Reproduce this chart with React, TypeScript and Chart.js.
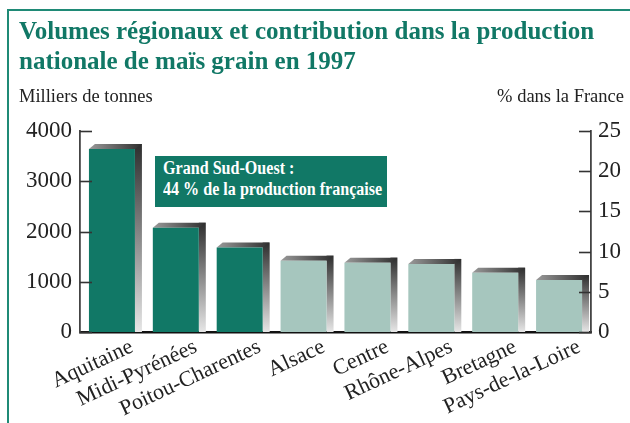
import React, { useEffect, useRef } from "react";
import { Chart, registerables } from "chart.js";

Chart.register(...registerables);

const categories = [
  "Aquitaine",
  "Midi-Pyrénées",
  "Poitou-Charentes",
  "Alsace",
  "Centre",
  "Rhône-Alpes",
  "Bretagne",
  "Pays-de-la-Loire",
];
const volumes = [3640, 2075, 1680, 1420, 1380, 1355, 1180, 1035];
const grandSudOuest = [true, true, true, false, false, false, false, false];
const leftTicks = [0, 1000, 2000, 3000, 4000];
const rightTicks = [0, 5, 10, 15, 20, 25];

const titleLines = [
  "Volumes régionaux et contribution dans la production",
  "nationale de maïs grain en 1997",
];
const leftUnit = "Milliers de tonnes";
const rightUnit = "% dans la France";
const noteLines = ["Grand Sud-Ouest :", "44 % de la production française"];

const DARK = "#117866";
const LIGHT = "#a6c6be";
const FRAME = "#1f8a76";
const SERIF = '"Liberation Serif", "Times New Roman", serif';

const shadowPlugin = {
  id: "barShadow",
  beforeDatasetsDraw(chart: any) {
    const ctx = chart.ctx;
    const meta = chart.getDatasetMeta(0);
    meta.data.forEach((bar: any) => {
      const { x, y, base, width } = bar.getProps(["x", "y", "base", "width"], true);
      const left = x - width / 2;
      const right = x + width / 2;
      const dx = 7;
      const dy = 5;
      ctx.save();
      const g = ctx.createLinearGradient(0, y - dy, 0, base);
      g.addColorStop(0, "#2e2e2e");
      g.addColorStop(1, "#e6e6e6");
      ctx.fillStyle = g;
      ctx.beginPath();
      ctx.moveTo(right, y - dy);
      ctx.lineTo(right + dx, y - dy);
      ctx.lineTo(right + dx, base);
      ctx.lineTo(right, base);
      ctx.closePath();
      ctx.fill();
      const h = ctx.createLinearGradient(left, 0, right + dx, 0);
      h.addColorStop(0, "#9a9a9a");
      h.addColorStop(1, "#2e2e2e");
      ctx.fillStyle = h;
      ctx.beginPath();
      ctx.moveTo(left, y);
      ctx.lineTo(left + dx - 1, y - dy);
      ctx.lineTo(right + dx, y - dy);
      ctx.lineTo(right, y);
      ctx.closePath();
      ctx.fill();
      ctx.restore();
    });
  },
};

const innerTicksPlugin = {
  id: "innerTicks",
  afterDraw(chart: any) {
    const ctx = chart.ctx;
    const len = 12;
    ctx.save();
    ctx.strokeStyle = "#333";
    ctx.lineWidth = 1.6;
    const yl = chart.scales.y;
    yl.ticks.forEach((_t: any, i: number) => {
      const py = Math.round(yl.getPixelForTick(i)) + 0.5;
      ctx.beginPath();
      ctx.moveTo(yl.right, py);
      ctx.lineTo(yl.right + len, py);
      ctx.stroke();
    });
    const yr = chart.scales.y1;
    yr.ticks.forEach((_t: any, i: number) => {
      const py = Math.round(yr.getPixelForTick(i)) + 0.5;
      ctx.beginPath();
      ctx.moveTo(yr.left - len, py);
      ctx.lineTo(yr.left, py);
      ctx.stroke();
    });
    ctx.restore();
  },
};

export default function App() {
  const ref = useRef<HTMLCanvasElement>(null);
  useEffect(() => {
    if (!ref.current) return;
    const chart = new Chart(ref.current, {
      type: "bar",
      data: {
        labels: categories,
        datasets: [
          {
            data: volumes,
            backgroundColor: grandSudOuest.map((g) => (g ? DARK : LIGHT)),
            borderWidth: 0,
            barPercentage: 0.72,
            categoryPercentage: 1,
            yAxisID: "y",
          },
        ],
      },
      options: {
        animation: false,
        responsive: true,
        maintainAspectRatio: false,
        layout: { padding: { top: 131, left: 0, right: 0, bottom: 0 } },
        plugins: {
          legend: { display: false },
          tooltip: { enabled: false },
          title: { display: false },
        },
        scales: {
          x: {
            type: "category",
            grid: { display: false, drawTicks: false },
            border: { display: true, color: "#111", width: 2.5 },
            ticks: {
              color: "#222",
              font: { family: SERIF, size: 22 },
              minRotation: 25,
              maxRotation: 25,
              labelOffset: 20,
              padding: 2,
              autoSkip: false,
            },
            afterFit(scale: any) {
              scale.height = 91;
            },
          },
          y: {
            position: "left",
            min: 0,
            max: 4000,
            afterBuildTicks(scale: any) {
              scale.ticks = leftTicks.map((v) => ({ value: v }));
            },
            grid: { display: false, drawTicks: false },
            border: { display: true, color: "#444", width: 1.8 },
            ticks: {
              color: "#222",
              font: { family: SERIF, size: 23 },
              padding: 8,
              callback: (v: any) => String(v),
            },
            afterFit(scale: any) {
              scale.width = 80;
            },
          },
          y1: {
            position: "right",
            min: 0,
            max: 25,
            afterBuildTicks(scale: any) {
              scale.ticks = rightTicks.map((v) => ({ value: v }));
            },
            grid: { display: false, drawTicks: false },
            border: { display: true, color: "#444", width: 1.8 },
            ticks: {
              color: "#222",
              font: { family: SERIF, size: 23 },
              padding: 7,
              callback: (v: any) => String(v),
            },
            afterFit(scale: any) {
              scale.width = 39;
            },
          },
        },
      } as any,
      plugins: [shadowPlugin, innerTicksPlugin],
    });
    return () => chart.destroy();
  }, []);

  return (
    <div
      style={{
        position: "fixed",
        left: 0,
        top: 0,
        width: 630,
        height: 423,
        background: "#ffffff",
        overflow: "hidden",
      }}
    >
      <canvas ref={ref} style={{ position: "absolute", left: 0, top: 0, width: 630, height: 423 }} />
      <div style={{ position: "absolute", left: 8, top: 9, width: 622, height: 2, background: FRAME }} />
      <div style={{ position: "absolute", left: 7, top: 9, width: 2, height: 414, background: FRAME }} />
      <div
        style={{
          position: "absolute",
          left: 19,
          top: 16,
          font: `bold 25px ${SERIF}`,
          lineHeight: "30px",
          color: DARK,
          whiteSpace: "nowrap",
        }}
      >
        {titleLines.map((l) => (
          <div key={l}>{l}</div>
        ))}
      </div>
      <div
        style={{
          position: "absolute",
          left: 19,
          top: 86,
          font: `18.5px ${SERIF}`,
          color: "#222",
          whiteSpace: "nowrap",
        }}
      >
        {leftUnit}
      </div>
      <div
        style={{
          position: "absolute",
          right: 6,
          top: 86,
          font: `18.5px ${SERIF}`,
          color: "#222",
          whiteSpace: "nowrap",
        }}
      >
        {rightUnit}
      </div>
      <div
        style={{
          position: "absolute",
          left: 155,
          top: 156,
          width: 232,
          height: 51,
          background: DARK,
        }}
      />
      <div
        style={{
          position: "absolute",
          left: 163,
          top: 158,
          font: `bold 18.5px ${SERIF}`,
          lineHeight: "21px",
          color: "#fff",
          whiteSpace: "nowrap",
          transform: "scaleX(0.87)",
          transformOrigin: "left top",
        }}
      >
        {noteLines.map((l) => (
          <div key={l}>{l}</div>
        ))}
      </div>
    </div>
  );
}
